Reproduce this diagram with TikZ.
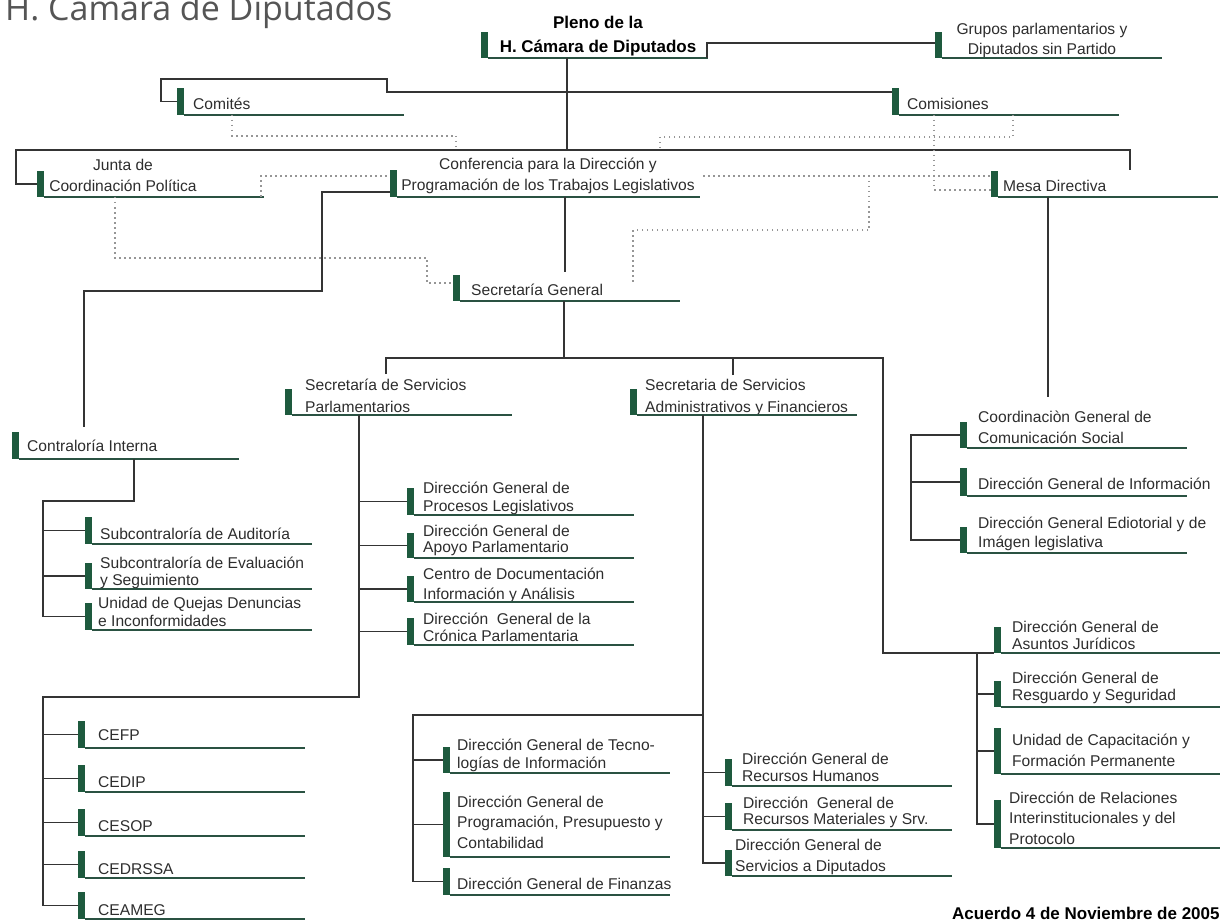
\documentclass[tikz,border=0pt]{standalone}
\usepackage{fontspec}
\setmainfont{Liberation Sans}
\newfontfamily\headfont{Open Sans}
\usetikzlibrary{calc}
\definecolor{barcol}{RGB}{30,90,62}
\definecolor{ulcol}{RGB}{42,82,66}
\definecolor{linkcol}{RGB}{52,52,52}
\definecolor{dotcol}{RGB}{150,150,150}
\definecolor{txtcol}{RGB}{45,45,45}

\begin{document}
\begin{tikzpicture}[x=1pt, y=-1pt,
  bar/.style={fill=barcol, minimum width=7, minimum height=#1, inner sep=0pt,
              outer sep=0pt, anchor=south west},
  bar/.default=27,
  unit/.style={text=txtcol, font=\fontsize{15.6}{#1}\selectfont, align=left,
               anchor=base west, inner sep=0pt},
  unit/.default=17,
  uline/.style={ulcol, line width=1.5pt},
  link/.style={linkcol, line width=1.6pt},
  dots/.style={dotcol, line width=1.5pt, dash pattern=on 1.5pt off 3.5pt}]
  \useasboundingbox (0,0) rectangle (1220,920);

  % Title
  \node[anchor=base west, inner sep=0pt, text={rgb,255:red,85;green,85;blue,85},
        font=\headfont\fontsize{34}{40}\selectfont] (title) at (5,21) {H. Cámara de Diputados};

  % Pleno and top bodies (text nodes sit on their last baseline)
  \node[bar=26] (pleno) at (481,58) {};
  \node[unit, align=center, anchor=base, text=black,
        font=\bfseries\fontsize{17}{24}\selectfont] (pleno-t) at (598,53) {Pleno de la\\H. Cámara de Diputados};
  \node[bar=26] (grupos) at (935,58) {};
  \node[unit=20, align=center, anchor=base] (grupos-t) at (1042,55) {Grupos parlamentarios y\\Diputados sin Partido};
  \node[bar] (comites) at (177,115) {};
  \node[unit] (comites-t) at (193,110) {Comités};
  \node[bar] (comisiones) at (892,115) {};
  \node[unit] (comisiones-t) at (907,110) {Comisiones};

  % Governing bodies
  \node[bar=26] (junta) at (37,197) {};
  \node[unit=21, align=center, anchor=base] (junta-t) at (123,192) {Junta de\\Coordinación Política};
  \node[bar] (conf) at (390,197) {};
  \node[unit=21, align=center, anchor=base] (conf-t) at (548,191) {Conferencia para la Dirección y\\Programación de los Trabajos Legislativos};
  \node[bar=26] (mesa) at (991,197) {};
  \node[unit] (mesa-t) at (1003,192) {Mesa Directiva};
  \node[bar=26] (secgen) at (453,301) {};
  \node[unit] (secgen-t) at (471,295) {Secretaría General};

  % Contraloria
  \node[bar] (contra) at (12,459) {};
  \node[unit] (contra-t) at (27,451) {Contraloría Interna};
  \node[bar] (audit) at (85,544) {};
  \node[unit] (audit-t) at (100,539) {Subcontraloría de Auditoría};
  \node[bar=26] (evalua) at (85,589) {};
  \node[unit] (evalua-t) at (100,585) {Subcontraloría de Evaluación\\y Seguimiento};
  \node[bar] (quejas) at (85,630) {};
  \node[unit=18] (quejas-t) at (98,626) {Unidad de Quejas Denuncias\\e Inconformidades};

  % Secretarias
  \node[bar=26] (secpar) at (285,415) {};
  \node[unit=22] (secpar-t) at (305,412) {Secretaría de Servicios\\Parlamentarios};
  \node[bar=26] (secadm) at (630,415) {};
  \node[unit=22] (secadm-t) at (645,412) {Secretaria de Servicios\\Administrativos y Financieros};

  % Mesa Directiva units
  \node[bar=26] (coord) at (960,448) {};
  \node[unit=21] (coord-t) at (978,443) {Coordinaciòn General de\\Comunicación Social};
  \node[bar=28] (info) at (960,496) {};
  \node[unit] (info-t) at (978,489) {Dirección General de Información};
  \node[bar=26] (edit) at (960,553) {};
  \node[unit=19] (edit-t) at (978,547) {Dirección General Ediotorial y de\\Imágen legislativa};

  % Servicios Parlamentarios units
  \node[bar] (proces) at (407,515) {};
  \node[unit=18] (proces-t) at (423,511) {Dirección General de\\Procesos Legislativos};
  \node[bar=25] (apoyo) at (407,558) {};
  \node[unit=16] (apoyo-t) at (423,552) {Dirección General de\\Apoyo Parlamentario};
  \node[bar=26] (centro) at (407,602) {};
  \node[unit=20] (centro-t) at (423,599) {Centro de Documentación\\Información y Análisis};
  \node[bar] (cronica) at (407,645) {};
  \node[unit] (cronica-t) at (423,641) {Dirección~~General de la\\Crónica Parlamentaria};

  % Centros de estudios
  \node[bar] (cefp) at (78,748) {};
  \node[unit] (cefp-t) at (98,740) {CEFP};
  \node[bar] (cedip) at (78,792) {};
  \node[unit] (cedip-t) at (98,787) {CEDIP};
  \node[bar] (cesop) at (78,836) {};
  \node[unit] (cesop-t) at (98,831) {CESOP};
  \node[bar] (cedrssa) at (78,878) {};
  \node[unit] (cedrssa-t) at (98,874) {CEDRSSA};
  \node[bar] (ceameg) at (78,919) {};
  \node[unit] (ceameg-t) at (98,915) {CEAMEG};

  % Servicios Administrativos units
  \node[bar=26] (tecno) at (443,773) {};
  \node[unit=18] (tecno-t) at (457,768) {Dirección General de Tecno-\\logías de Información};
  \node[bar=65] (progra) at (443,857) {};
  \node[unit=20.5] (progra-t) at (457,848) {Dirección General de\\Programación, Presupuesto y\\Contabilidad};
  \node[bar] (finan) at (443,895) {};
  \node[unit] (finan-t) at (457,889) {Dirección General de Finanzas};
  \node[bar] (rhum) at (725,786) {};
  \node[unit] (rhum-t) at (742,781) {Dirección General de\\Recursos Humanos};
  \node[bar] (rmat) at (725,830) {};
  \node[unit=16] (rmat-t) at (743,824) {Dirección~~General de\\Recursos Materiales y Srv.};
  \node[bar=26] (servd) at (725,876) {};
  \node[unit=21] (servd-t) at (735,871) {Dirección General de\\Servicios a Diputados};
  \node[bar=26] (asunt) at (994,653) {};
  \node[unit] (asunt-t) at (1012,649) {Dirección General de\\Asuntos Jurídicos};
  \node[bar=26] (resg) at (994,707) {};
  \node[unit] (resg-t) at (1012,700) {Dirección General de\\Resguardo y Seguridad};
  \node[bar=46] (capac) at (994,774) {};
  \node[unit=21] (capac-t) at (1012,766) {Unidad de Capacitación y\\Formación Permanente};
  \node[bar=48] (relac) at (994,848) {};
  \node[unit=20.5] (relac-t) at (1009,844) {Dirección de Relaciones\\Interinstitucionales y del\\Protocolo};

  % Date
  \node[anchor=base west, inner sep=0pt, font=\bfseries\fontsize{17}{20}\selectfont] (acuerdo) at (952,919) {Acuerdo 4 de Noviembre de 2005};

  % Underlines
  \foreach \n in {pleno,grupos,comites,comisiones,junta,mesa,secgen,contra,audit,evalua,quejas,
                  secpar,secadm,coord,info,edit,proces,apoyo,centro,cronica,cefp,cedip,cesop,
                  cedrssa,ceameg,tecno,progra,finan,rhum,rmat,servd,asunt,resg,capac,relac}
    \draw[uline] (\n.south east) -- ++(220,0);
  \draw[uline] (conf.south east) -- ++(303,0);

  % Junctions
  \coordinate (jconf) at (567,150);
  \coordinate (tick) at (1130,170);
  \coordinate (sgtop) at (565,272);
  \coordinate (ctop) at (84,427);
  \coordinate (csplit) at (134,501);
  \coordinate (ctrunk) at (43,501);
  \coordinate (sbus) at (564,358);
  \coordinate (bl) at (386,374);
  \coordinate (bm) at (733,375);
  \coordinate (br) at (883,653);
  \coordinate (atrunk) at (977,653);
  \coordinate (mdrop) at (1048,397);
  \coordinate (mtrunk) at (911,433);
  \coordinate (pbend) at (359,697);
  \coordinate (cetop) at (43,697);
  \coordinate (atr) at (703,715);
  \coordinate (ltop) at (413,715);

  % Solid connectors
  \draw[link] ($(pleno.south east)+(219,0)$) |- ($(grupos.west)+(0,-2)$);
  \draw[link] (pleno.south -| jconf) -- (jconf);
  \draw[link] (comites.west) -- ++(-16,0) -- ++(0,-22.5) -- ++(226,0) -- ++(0,13)
              -- ($(comisiones.west)+(0,-9.5)$);
  \draw[link] (junta.west) -- ++(-21,0) |- (tick |- jconf) -- (tick);
  \draw[link] (sgtop |- conf.south) -- (sgtop);
  \draw[link] ($(conf.west)+(0,8.5)$) -- ++(-68,0) -- ++(0,99) -| (ctop);
  \draw[link] (contra.south -| csplit) -- (csplit) -- (ctrunk) |- (quejas.west);
  \foreach \n in {audit,evalua} \draw[link] (\n.west -| ctrunk) -- (\n.west);
  \draw[link] (secgen.south -| sbus) -- (sbus);
  \draw[link] (bl) |- (br |- sbus) -- (br) -- (asunt.south west);
  \draw[link] (bm) -- (bm |- sbus);
  \draw[link] (atrunk) |- (relac.west);
  \foreach \n in {resg,capac} \draw[link] (\n.west -| atrunk) -- (\n.west);
  \draw[link] (mesa.south -| mdrop) -- (mdrop);
  \draw[link] (coord.west) -- (coord.west -| mtrunk) |- (edit.west);
  \draw[link] (info.west -| mtrunk) -- (info.west);
  \draw[link] (secpar.south -| pbend) -- (pbend) -- (cetop) |- (ceameg.west);
  \foreach \n in {proces,apoyo,centro,cronica} \draw[link] (\n.west -| pbend) -- (\n.west);
  \foreach \n in {cefp,cedip,cesop,cedrssa} \draw[link] (\n.west -| cetop) -- (\n.west);
  \draw[link] (secadm.south -| atr) |- (servd.west);
  \foreach \n in {rhum,rmat} \draw[link] (\n.west -| atr) -- (\n.west);
  \draw[link] (atr) -- (ltop) |- (finan.west);
  \foreach \n in {tecno,progra} \draw[link] (\n.west -| ltop) -- (\n.west);

  % Dotted relations
  \draw[dots] ($(comites.south east)+(48,0)$) -- ++(0,21) -- ++(224,0) -- ++(0,14);
  \draw[dots] ($(comisiones.south east)+(114,0)$) -- ++(0,22) -- ++(-353,0) -- ++(0,13);
  \draw[dots] ($(comisiones.south east)+(35,0)$) |- ($(mesa.west)+(0,6)$);
  \draw[dots] ($(junta.south east)+(217,0)$) |- ($(conf.west)+(0,-7.5)$);
  \draw[dots] ($(conf.south east)+(306,-21)$) -- ($(mesa.west)+(0,-8)$);
  \draw[dots] ($(mesa.west)+(-122,-8)$) -- ++(0,54) -| ($(secgen.south east)+(173,-19)$);
  \draw[dots] ($(junta.south east)+(71,0)$) -- ++(0,61) -| ($(secgen.west)+(-26,-5)$)
              -- ($(secgen.west)+(0,-5)$);
\end{tikzpicture}
\end{document}
